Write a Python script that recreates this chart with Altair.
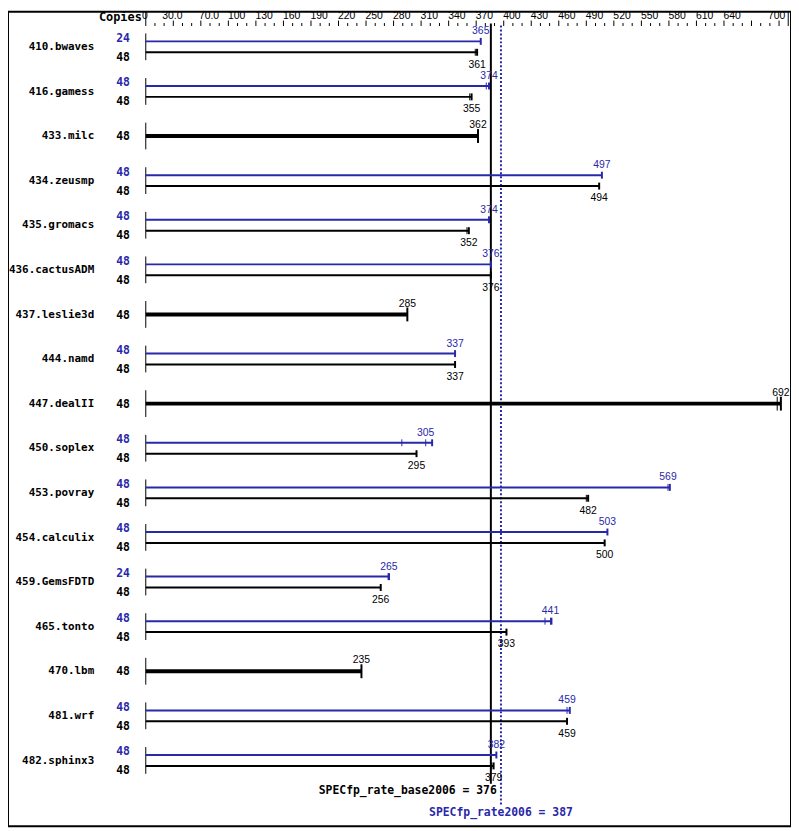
import altair as alt
import pandas as pd

# ---------------- data ----------------
names = ["410.bwaves", "416.gamess", "433.milc", "434.zeusmp", "435.gromacs",
         "436.cactusADM", "437.leslie3d", "444.namd", "447.dealII", "450.soplex",
         "453.povray", "454.calculix", "459.GemsFDTD", "465.tonto", "470.lbm",
         "481.wrf", "482.sphinx3"]
peak_copies = [24, 48, None, 48, 48, 48, None, 48, None, 48, 48, 48, 24, 48, None, 48, 48]
base_copies = [48, 48, 48, 48, 48, 48, 48, 48, 48, 48, 48, 48, 48, 48, 48, 48, 48]
peak_scores = [365, 374, None, 497, 374, 376, None, 337, None, 305, 569, 503, 265, 441, None, 459, 382]
base_scores = [361, 355, 362, 494, 352, 376, 285, 337, 692, 295, 482, 500, 256, 393, 235, 459, 379]
peak_runs = [[365], [371, 374], None, [497], [374], [376], None, [337], None, [279, 305, 312],
             [569, 571], [503], [264, 265], [435, 441, 442], None, [459, 462], [382]]
base_runs = [[359, 361], [353, 355], [362], [494], [350, 352], [376], [285], [337], [688, 692],
             [295], [480, 482], [500], [256], [393], [235], [459], [377, 379]]

tick_values = list(range(0, 701, 10))
axis_label_values = [0, 30, 70, 100, 130, 160, 190, 220, 250, 280, 310, 340, 370, 400,
                     430, 460, 490, 520, 550, 580, 610, 640]
axis_label_text = ["0", "30.0", "70.0", "100", "130", "160", "190", "220", "250", "280",
                   "310", "340", "370", "400", "430", "460", "490", "520", "550", "580",
                   "610", "640"]
axis_last_value = 700
axis_last_text = "700"

base_overall = 376
peak_overall = 387
base_overall_label = "SPECfp_rate_base2006 = 376"
peak_overall_label = "SPECfp_rate2006 = 387"

# ---------------- styling / layout ----------------
BLUE = "#2828aa"
W, H = 790, 822
ROW = 45.0
TOP = 43.5 - 8.0
OFF = 5.5 / ROW
ymin = -TOP / ROW
ymax = (H - TOP) / ROW

X = alt.Scale(domain=[0, 700], range=[139, 139 + 0.926 * 700], nice=False, zero=False)
Y = alt.Scale(domain=[ymin, ymax], range=[0, H], nice=False, zero=False)

blocks, thin_bars, thick_bars, ticks = [], [], [], []
for i, nm in enumerate(names):
    blocks.append(dict(name=nm, pos=i, lo=i - 0.3, hi=i + 0.3, start=0))
    if peak_scores[i] is None:
        rows = [("base", float(i), True, base_copies[i], base_scores[i], base_runs[i])]
    else:
        rows = [("peak", i - OFF, False, peak_copies[i], peak_scores[i], peak_runs[i]),
                ("base", i + OFF, False, base_copies[i], base_scores[i], base_runs[i])]
    for kind, pos, single, copies, score, runs in rows:
        end = max(runs)
        rec = dict(kind=kind, pos=pos, copies=str(copies), score=score, start=0, end=end)
        (thick_bars if single else thin_bars).append(rec)
        half = (7.0 if single else 3.5) / ROW
        for r in runs:
            ticks.append(dict(kind=kind, x=r, lo=pos - half, hi=pos + half,
                              w=("cap" if r == end else "run")))

blocks = pd.DataFrame(blocks)
thin = pd.DataFrame(thin_bars)
thick = pd.DataFrame(thick_bars)
ticks = pd.DataFrame(ticks)
peak_rows = thin[thin.kind == "peak"]
base_rows = thin[thin.kind == "base"]

color = alt.Color("kind:N", scale=alt.Scale(domain=["peak", "base"], range=[BLUE, "black"]),
                  legend=None)

axis_ticks = pd.DataFrame({"v": tick_values})
axis_ticks["len"] = ["edge" if v in (0, 700) else ("long" if v % 30 == 0 else "short")
                     for v in tick_values]
axis_labels = pd.DataFrame({"v": axis_label_values, "t": axis_label_text})
last_label = pd.DataFrame({"v": [axis_last_value], "t": [axis_last_text]})
overall = pd.DataFrame({"kind": ["base", "peak"], "v": [base_overall, peak_overall],
                        "t": [base_overall_label, peak_overall_label]})

VAL_FONT = "Liberation Sans"
MONO = "DejaVu Sans Mono"
LABEL_Y = 7.6

layers = []

# axis ticks
for kind, y0 in [("short", 11.5), ("long", 9), ("edge", 0)]:
    layers.append(alt.Chart(axis_ticks).transform_filter(alt.datum.len == kind)
                  .mark_rule(color="black", strokeWidth=1)
                  .encode(x=alt.X("v:Q", scale=X, axis=None),
                          y=alt.value(y0), y2=alt.value(14.5)))
# axis labels
layers.append(alt.Chart(axis_labels).mark_text(font=VAL_FONT, fontSize=10.5, align="center",
                                               baseline="alphabetic", dx=-1, color="black")
              .encode(x=alt.X("v:Q", scale=X, axis=None), y=alt.value(LABEL_Y), text="t:N"))
layers.append(alt.Chart(last_label).mark_text(font=VAL_FONT, fontSize=10.5, align="right",
                                              baseline="alphabetic", dx=-3, color="black")
              .encode(x=alt.X("v:Q", scale=X, axis=None), y=alt.value(LABEL_Y), text="t:N"))
layers.append(alt.Chart(pd.DataFrame({"t": ["Copies"]}))
              .mark_text(font=MONO, fontWeight="bold", fontSize=12, align="right",
                         baseline="alphabetic", color="black")
              .encode(x=alt.value(135), y=alt.value(9), text="t:N"))

# overall reference lines
layers.append(alt.Chart(overall).transform_filter(alt.datum.kind == "base")
              .mark_rule(color="black", strokeWidth=2)
              .encode(x=alt.X("v:Q", scale=X, axis=None),
                      y=alt.value(12), y2=alt.value(779)))
layers.append(alt.Chart(overall).transform_filter(alt.datum.kind == "peak")
              .mark_rule(color=BLUE, strokeWidth=2, strokeDash=[2, 2])
              .encode(x=alt.X("v:Q", scale=X, axis=None),
                      y=alt.value(14), y2=alt.value(800)))

# per-benchmark left axis line
layers.append(alt.Chart(blocks).mark_rule(color="black", strokeWidth=1)
              .encode(x=alt.X("start:Q", scale=X, axis=None),
                      y=alt.Y("lo:Q", scale=Y, axis=None), y2="hi:Q"))
# benchmark names
layers.append(alt.Chart(blocks).mark_text(font=MONO, fontWeight="bold", fontSize=11,
                                          align="right", baseline="alphabetic", dy=3.2,
                                          color="black")
              .encode(x=alt.value(87), y=alt.Y("pos:Q", scale=Y, axis=None), text="name:N"))

# bars
layers.append(alt.Chart(thin).mark_rule(strokeWidth=2)
              .encode(x=alt.X("start:Q", scale=X, axis=None), x2="end:Q",
                      y=alt.Y("pos:Q", scale=Y, axis=None), color=color))
layers.append(alt.Chart(thick).mark_rule(strokeWidth=4)
              .encode(x=alt.X("start:Q", scale=X, axis=None), x2="end:Q",
                      y=alt.Y("pos:Q", scale=Y, axis=None), color=color))
# run ticks
for w, sw in [("run", 1), ("cap", 2)]:
    layers.append(alt.Chart(ticks).transform_filter(alt.datum.w == w)
                  .mark_rule(strokeWidth=sw)
                  .encode(x=alt.X("x:Q", scale=X, axis=None),
                          y=alt.Y("lo:Q", scale=Y, axis=None), y2="hi:Q", color=color))

# value labels
layers.append(alt.Chart(peak_rows).mark_text(font=VAL_FONT, fontSize=10.5, align="center",
                                             baseline="alphabetic", dy=-7, color=BLUE)
              .encode(x=alt.X("score:Q", scale=X, axis=None),
                      y=alt.Y("pos:Q", scale=Y, axis=None), text="score:Q"))
layers.append(alt.Chart(base_rows).mark_text(font=VAL_FONT, fontSize=10.5, align="center",
                                             baseline="alphabetic", dy=15.5, color="black")
              .encode(x=alt.X("score:Q", scale=X, axis=None),
                      y=alt.Y("pos:Q", scale=Y, axis=None), text="score:Q"))
layers.append(alt.Chart(thick).mark_text(font=VAL_FONT, fontSize=10.5, align="center",
                                         baseline="alphabetic", dy=-8, color="black")
              .encode(x=alt.X("score:Q", scale=X, axis=None),
                      y=alt.Y("pos:Q", scale=Y, axis=None), text="score:Q"))

# copies labels
layers.append(alt.Chart(peak_rows).mark_text(font=MONO, fontWeight="bold", fontSize=11.5,
                                             align="right", baseline="alphabetic", dy=0.5,
                                             color=BLUE)
              .encode(x=alt.value(123), y=alt.Y("pos:Q", scale=Y, axis=None), text="copies:N"))
layers.append(alt.Chart(base_rows).mark_text(font=MONO, fontWeight="bold", fontSize=11.5,
                                             align="right", baseline="alphabetic", dy=8.5,
                                             color="black")
              .encode(x=alt.value(123), y=alt.Y("pos:Q", scale=Y, axis=None), text="copies:N"))
layers.append(alt.Chart(thick).mark_text(font=MONO, fontWeight="bold", fontSize=11.5,
                                         align="right", baseline="alphabetic", dy=4.2,
                                         color="black")
              .encode(x=alt.value(123), y=alt.Y("pos:Q", scale=Y, axis=None), text="copies:N"))

# overall score texts
layers.append(alt.Chart(overall).transform_filter(alt.datum.kind == "base")
              .mark_text(font=MONO, fontWeight="bold", fontSize=11.5, align="right",
                         baseline="alphabetic", dx=6, color="black")
              .encode(x=alt.X("v:Q", scale=X, axis=None), y=alt.value(789.5), text="t:N"))
layers.append(alt.Chart(overall).transform_filter(alt.datum.kind == "peak")
              .mark_text(font=MONO, fontWeight="bold", fontSize=11.5, align="center",
                         baseline="alphabetic", color=BLUE)
              .encode(x=alt.X("v:Q", scale=X, axis=None), y=alt.value(812), text="t:N"))

chart = alt.layer(*layers).properties(
    width=W, height=H, autosize=alt.AutoSizeParams(type="none"), padding=0
).configure_view(stroke="black", strokeWidth=2)

chart.save("out.html", embed_options={"renderer": "svg", "actions": False})
